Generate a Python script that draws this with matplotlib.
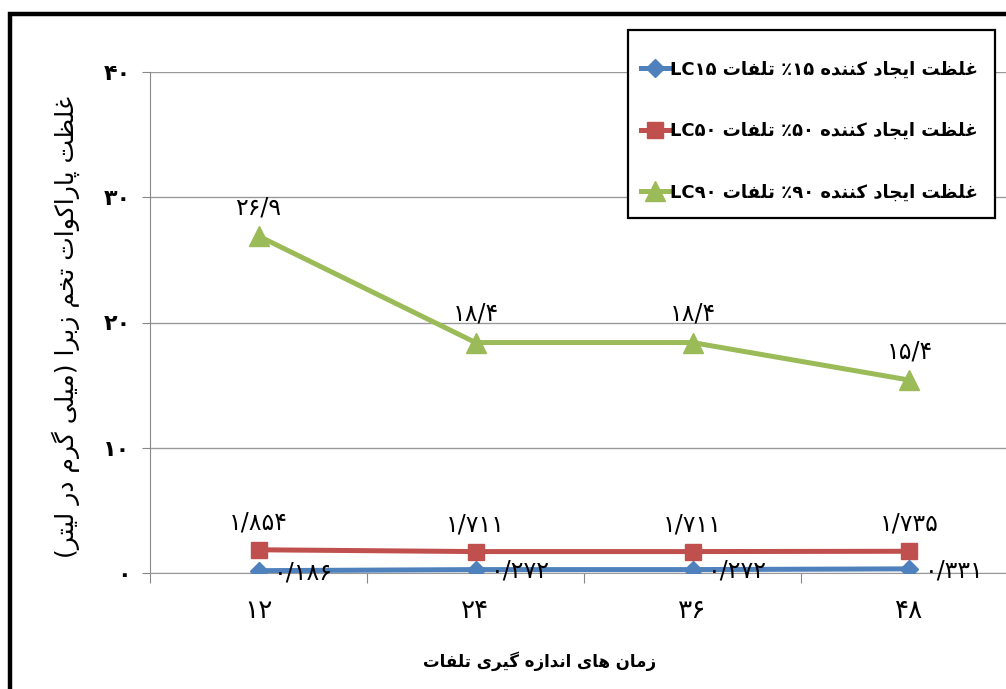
import matplotlib
matplotlib.use("Agg")
import matplotlib.pyplot as plt
from matplotlib.patches import Rectangle

# data
hours = ["۱۲", "۲۴", "۳۶", "۴۸"]
lc15 = [0.186, 0.272, 0.272, 0.331]
lc50 = [1.854, 1.711, 1.711, 1.735]
lc90 = [26.9, 18.4, 18.4, 15.4]
lc15_lbl = ["۰/۱۸۶", "۰/۲۷۲", "۰/۲۷۲", "۰/۳۳۱"]
lc50_lbl = ["۱/۸۵۴", "۱/۷۱۱", "۱/۷۱۱", "۱/۷۳۵"]
lc90_lbl = ["۲۶/۹", "۱۸/۴", "۱۸/۴", "۱۵/۴"]
yticks = [0, 10, 20, 30, 40]
ytick_lbl = ["۰", "۱۰", "۲۰", "۳۰", "۴۰"]
legend_names = ["غلظت ایجاد کننده ۱۵٪ تلفات LC۱۵",
                "غلظت ایجاد کننده ۵۰٪ تلفات LC۵۰",
                "غلظت ایجاد کننده ۹۰٪ تلفات LC۹۰"]
xlabel = "زمان های اندازه گیری تلفات"
ylabel = "غلظت پاراکوات تخم زبرا (میلی گرم در لیتر)"

# --- tiny persian shaper, matplotlib has no arabic shaping ---
# letter: (isolated, final, initial, medial); 2-tuple = joins only to the right
FORMS = {
    "ا": (0xFE8D, 0xFE8E), "د": (0xFEA9, 0xFEAA), "ر": (0xFEAD, 0xFEAE),
    "ز": (0xFEAF, 0xFEB0), "و": (0xFEED, 0xFEEE),
    "ب": (0xFE8F, 0xFE90, 0xFE91, 0xFE92), "پ": (0xFB56, 0xFB57, 0xFB58, 0xFB59),
    "ت": (0xFE95, 0xFE96, 0xFE97, 0xFE98), "ج": (0xFE9D, 0xFE9E, 0xFE9F, 0xFEA0),
    "خ": (0xFEA5, 0xFEA6, 0xFEA7, 0xFEA8), "ظ": (0xFEC5, 0xFEC6, 0xFEC7, 0xFEC8),
    "غ": (0xFECD, 0xFECE, 0xFECF, 0xFED0), "ف": (0xFED1, 0xFED2, 0xFED3, 0xFED4),
    "ک": (0xFB8E, 0xFB8F, 0xFB90, 0xFB91), "گ": (0xFB92, 0xFB93, 0xFB94, 0xFB95),
    "ل": (0xFEDD, 0xFEDE, 0xFEDF, 0xFEE0), "م": (0xFEE1, 0xFEE2, 0xFEE3, 0xFEE4),
    "ن": (0xFEE5, 0xFEE6, 0xFEE7, 0xFEE8), "ه": (0xFEE9, 0xFEEA, 0xFEEB, 0xFEEC),
    "ی": (0xFBFC, 0xFBFD, 0xFBFE, 0xFBFF),
}
MIRROR = {"(": ")", ")": "("}


def shape(word):
    out = []
    for i, c in enumerate(word):
        if c not in FORMS:
            out.append(c)
            continue
        prev = word[i - 1] if i > 0 else ""
        nxt = word[i + 1] if i + 1 < len(word) else ""
        join_prev = prev in FORMS and len(FORMS[prev]) == 4
        join_next = nxt in FORMS and len(FORMS[c]) == 4
        f = FORMS[c]
        if join_prev and join_next:
            out.append(chr(f[3]))
        elif join_prev:
            out.append(chr(f[1]))
        elif join_next:
            out.append(chr(f[2]))
        else:
            out.append(chr(f[0]))
    return "".join(out)


def is_ltr(c):
    return c.isascii() and c.isalnum() or "۰" <= c <= "۹" or c in "/."


def fa(text):
    # split into ltr / rtl runs, reverse for visual order
    runs = []
    for c in text:
        kind = is_ltr(c)
        if runs and runs[-1][0] == kind:
            runs[-1][1] += c
        else:
            runs.append([kind, c])
    vis = []
    for kind, s in reversed(runs):
        if kind:
            vis.append(s)
        else:
            s = shape(s)
            vis.append("".join(MIRROR.get(c, c) for c in reversed(s)))
    return "".join(vis)


plt.rcParams["font.family"] = ["DejaVu Sans"]

fig = plt.figure(figsize=(10.06, 6.89), dpi=100)
ax = fig.add_axes([150 / 1006, 1 - 573 / 689, 868 / 1006, 501 / 689])

x = list(range(len(hours)))
blue, red, green = "#4F81BD", "#C0504D", "#9BBB59"

ax.plot(x, lc15, color=blue, lw=3.6, marker="D", ms=9, zorder=5,
        label=fa(legend_names[0]))
ax.plot(x, lc50, color=red, lw=3.6, marker="s", ms=11, zorder=4,
        label=fa(legend_names[1]))
ax.plot(x, lc90, color=green, lw=3.6, marker="^", ms=14, zorder=4,
        label=fa(legend_names[2]))

for i in x:
    ax.annotate(lc90_lbl[i], (i, lc90[i]), xytext=(0, 12), textcoords="offset points",
                ha="center", va="bottom", fontsize=17)
    ax.annotate(lc50_lbl[i], (i, lc50[i]), xytext=(0, 11), textcoords="offset points",
                ha="center", va="bottom", fontsize=17)
    ax.annotate(lc15_lbl[i], (i, lc15[i]), xytext=(11, -1), textcoords="offset points",
                ha="left", va="center", fontsize=17, zorder=6)

ax.set_xlim(-0.5, len(hours) - 0.5)
ax.set_ylim(0, 40)
ax.set_yticks(yticks)
ax.set_yticklabels(ytick_lbl, fontsize=16, fontweight="bold")
ax.set_xticks([i - 0.5 for i in range(len(hours) + 1)])
ax.set_xticklabels([])
ax.set_xticks(x, minor=True)
ax.set_xticklabels(hours, minor=True, fontsize=19)
ax.tick_params(axis="x", which="major", length=7, color="#888888", direction="out")
ax.tick_params(axis="x", which="minor", length=0, pad=18)
ax.tick_params(axis="y", length=6, color="#888888", pad=8)

ax.grid(axis="y", color="#999999", lw=1)
ax.set_axisbelow(True)
for s in ["top", "right"]:
    ax.spines[s].set_visible(False)
ax.spines["left"].set_color("#888888")
ax.spines["bottom"].set_color("#999999")

# legend box drawn by hand so its size matches, legend itself without frame
fig.patches.append(Rectangle((628 / 1006, 1 - 218 / 689), 367 / 1006, 188 / 689,
                             transform=fig.transFigure, facecolor="white",
                             edgecolor="black", lw=1.6, zorder=1))
leg = fig.legend(loc="upper left", bbox_to_anchor=(628 / 1006, 1 - 48 / 689),
                 borderaxespad=0, frameon=False,
                 prop={"size": 13, "weight": "bold"}, handlelength=1.55,
                 handletextpad=0.1, labelspacing=2.4, borderpad=0.7)

fig.text(540 / 1006, 1 - 661 / 689, fa(xlabel), ha="center", va="center",
         fontsize=12, fontweight="bold")
fig.text(66 / 1006, 1 - 327 / 689, fa(ylabel), ha="center", va="center",
         rotation=90, fontsize=18)

# outer frame of the figure (cut on right and bottom)
fig.patches.append(Rectangle((10 / 1006, -0.1), 1.2, 1 - 14 / 689 + 0.1,
                             transform=fig.transFigure, fill=False,
                             edgecolor="black", lw=3.2))

fig.savefig("out.png", dpi=100)
